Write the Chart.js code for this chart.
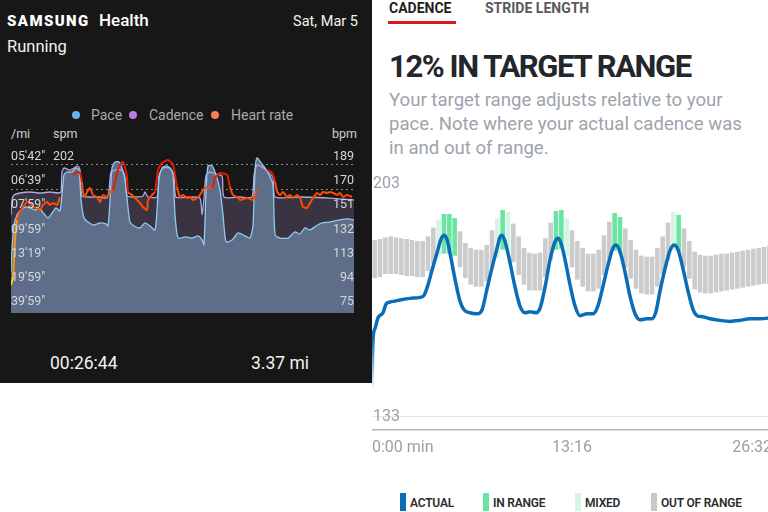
<!DOCTYPE html>
<html>
<head>
<meta charset="utf-8">
<script src="https://cdn.jsdelivr.net/npm/chart.js@4.4.1/dist/chart.umd.min.js"></script>
<style>
  html, body { margin: 0; padding: 0; background: #fff; }
  #page { position: relative; width: 768px; height: 512px; overflow: hidden; font-family: Roboto, "Noto Sans", sans-serif; }
  #left { position: absolute; left: 0; top: 0; width: 372px; height: 383px; background: #171717; }
  .t { position: absolute; white-space: nowrap; line-height: 1; }
  .dot { position: absolute; width: 8px; height: 8px; border-radius: 50%; }
  .lbar { position: absolute; width: 6px; height: 18px; top: 493px; }
  .ltxt { position: absolute; top: 497px; font-size: 12px; font-weight: 600; color: #2b2b2b; white-space: nowrap; line-height: 1; letter-spacing: -0.2px; }
  canvas { position: absolute; }
</style>
</head>
<body>
<div id="page">
  <div id="left"></div>
  <div class="t" style="left:7px;top:14px;font-size:15px;font-weight:900;letter-spacing:1.4px;color:#fff;">SAMSUNG</div>
  <div class="t" style="left:99px;top:12px;font-size:17px;font-weight:500;color:#fff;">Health</div>
  <div class="t" style="right:410px;top:15px;font-size:14.5px;color:#f2f2f2;">Sat, Mar 5</div>
  <div class="t" style="left:7px;top:39px;font-size:16.5px;color:#f2f2f2;">Running</div>

  <div class="dot" style="left:72px;top:111px;background:#64b5f6;"></div>
  <div class="t" style="left:91px;top:108px;font-size:14px;color:#a9a9a9;">Pace</div>
  <div class="dot" style="left:129px;top:111px;background:#c07be8;"></div>
  <div class="t" style="left:149px;top:108px;font-size:14px;color:#a9a9a9;">Cadence</div>
  <div class="dot" style="left:211px;top:111px;background:#f47f63;"></div>
  <div class="t" style="left:231px;top:108px;font-size:14px;color:#a9a9a9;">Heart rate</div>

  <div class="t" style="left:11px;top:128px;font-size:12.5px;color:#d0d0d0;">/mi</div>
  <div class="t" style="left:53px;top:128px;font-size:12.5px;color:#d0d0d0;">spm</div>
  <div class="t" style="left:332px;top:128px;font-size:12.5px;color:#d0d0d0;">bpm</div>

  <div class="t" style="left:50px;top:355px;font-size:17.5px;color:#f2f2f2;">00:26:44</div>
  <div class="t" style="left:251px;top:355px;font-size:17.5px;color:#f2f2f2;">3.37 mi</div>

  <canvas id="samsung" width="372" height="180" style="left:0;top:140px;"></canvas>

  <div class="t" style="left:389px;top:1px;font-size:14px;font-weight:700;color:#1f1f1f;">CADENCE</div>
  <div style="position:absolute;left:388px;top:21px;width:68px;height:3px;background:#d71920;"></div>
  <div class="t" style="left:485px;top:1px;font-size:14px;font-weight:700;color:#5a5a5a;">STRIDE LENGTH</div>
  <div class="t" style="left:389px;top:51px;font-size:31px;font-weight:700;letter-spacing:-1.4px;color:#23262b;">12% IN TARGET RANGE</div>
  <div class="t" style="left:389px;top:88px;font-size:18.6px;line-height:24px;color:#9da3ad;">Your target range adjusts relative to your<br>pace. Note where your actual cadence was<br>in and out of range.</div>

  <canvas id="cadence" width="400" height="300" style="left:372px;top:170px;"></canvas>

  <div class="lbar" style="left:400px;background:#0a6db5;"></div>
  <div class="ltxt" style="left:410px;">ACTUAL</div>
  <div class="lbar" style="left:483px;background:#6ae4a0;"></div>
  <div class="ltxt" style="left:493px;">IN RANGE</div>
  <div class="lbar" style="left:575px;background:#d3f5e3;"></div>
  <div class="ltxt" style="left:585px;">MIXED</div>
  <div class="lbar" style="left:651px;background:#c8c8c8;"></div>
  <div class="ltxt" style="left:661px;">OUT OF RANGE</div>
</div>

<script>
// === Samsung Health panel (time in minutes) ===
var paceMin = [0, 0.08, 0.23, 0.47, 0.70, 1.09, 1.48, 1.87, 2.26, 2.57, 2.88, 3.20, 3.51, 3.82, 3.97, 4.13, 4.36, 4.75, 5.07, 5.30,
  5.46, 5.69, 6.00, 6.47, 6.94, 7.40, 7.56, 7.72, 7.87, 8.11, 8.42, 8.65, 8.89, 9.04, 9.27, 9.59, 10.05, 10.44, 10.83, 11.22,
  11.38, 11.53, 11.77, 12.08, 12.39, 12.63, 12.78, 13.02, 13.56, 14.11, 14.57, 14.89, 15.04, 15.20, 15.35, 15.67, 15.98, 16.29, 16.52, 16.76,
  17.23, 17.69, 18.24, 18.63, 18.86, 19.02, 19.17, 19.49, 19.80, 20.19, 20.42, 20.58, 20.97, 21.59, 22.13, 22.52, 22.91, 23.30, 23.77, 24.24,
  24.86, 25.64, 26.27, 26.73];
// speed in mph (axis labels show it as min/mi pace)
var paceMph = [3.87, 5.24, 6.79, 7.42, 7.67, 7.91, 7.85, 7.73, 7.79, 7.48, 7.23, 7.54, 7.85, 7.67, 8.66, 9.91, 10.09, 10.09, 10.34, 10.22,
  8.35, 7.23, 6.98, 6.79, 6.92, 6.86, 6.73, 8.35, 10.34, 10.72, 10.72, 10.34, 9.60, 8.48, 6.98, 6.73, 6.61, 6.92, 6.73, 6.48,
  7.73, 9.60, 10.34, 10.47, 10.34, 9.91, 7.42, 5.98, 6.05, 5.98, 6.11, 5.86, 5.55, 8.97, 10.47, 10.47, 9.91, 8.97, 7.42, 5.74,
  5.86, 6.30, 6.11, 5.98, 6.79, 10.22, 10.97, 10.66, 10.34, 9.78, 9.29, 6.17, 5.98, 5.98, 6.36, 6.23, 6.61, 6.48, 6.73, 6.92,
  6.98, 7.11, 7.17, 7.11];

var cadMin = [0, 0.08, 0.23, 0.70, 1.48, 2.26, 3.04, 3.66, 3.90, 3.97, 4.13, 4.60, 4.91, 5.22, 5.38, 5.53, 6.16, 6.94, 7.48, 7.64,
  7.79, 8.11, 8.65, 8.89, 9.04, 9.66, 10.29, 10.44, 10.68, 11.38, 11.53, 11.85, 12.39, 12.70, 12.86, 13.95, 14.73, 14.89, 15.04, 15.20,
  15.51, 15.98, 16.45, 16.60, 17.85, 18.78, 18.94, 19.17, 19.56, 20.03, 20.42, 20.58, 22.52, 24.86, 26.73];
var cadSpm = [177.2, 184.6, 187.1, 188.1, 188.6, 188.1, 188.6, 188.1, 188.6, 198.5, 200.5, 199.5, 200.5, 201.5, 199.5, 186.6, 186.1, 186.1, 185.6, 189.6,
  198.5, 199.5, 199.5, 195.6, 186.6, 186.1, 186.6, 188.6, 186.1, 186.1, 197.0, 200.5, 200.5, 197.0, 186.1, 186.1, 185.6, 177.2, 185.6, 197.0,
  198.5, 197.5, 196.5, 186.1, 186.1, 186.1, 197.0, 202.0, 201.0, 198.5, 195.6, 186.1, 186.1, 185.6, 184.6];

var hrMin = [0, 0.16, 0.31, 0.47, 0.70, 0.94, 1.25, 1.48, 1.71, 2.03, 2.26, 2.49, 2.81, 3.04, 3.27, 3.59, 3.82, 4.30, 4.83, 5.14,
  5.38, 5.53, 5.61, 5.77, 5.92, 6.16, 6.39, 6.70, 6.94, 7.17, 7.48, 7.72, 7.95, 8.26, 8.50, 8.73, 9.04, 9.12, 9.43, 9.82,
  10.05, 10.29, 10.60, 10.68, 10.99, 11.22, 11.46, 11.77, 12.24, 12.63, 12.94, 13.17, 13.41, 13.72, 13.95, 14.19, 14.50, 14.73, 14.96, 15.28,
  15.67, 15.90, 16.29, 16.84, 17.07, 17.30, 17.61, 17.85, 18.39, 18.86, 19.17, 19.50, 19.95, 20.35, 20.58, 20.74, 20.97, 21.20, 21.51, 21.75,
  21.98, 22.29, 22.52, 22.76, 23.07, 23.30, 23.54, 23.85, 24.08, 24.32, 24.63, 24.86, 25.10, 25.41, 25.64, 25.88, 26.19, 26.58];
var hrBpm = [94.7, 100.9, 130.0, 145.8, 152.0, 156.0, 159.9, 159.1, 156.0, 155.2, 153.6, 157.6, 159.9, 157.6, 159.1, 157.6, 163.8, null, 181.1, 183.5,
  182.7, 175.6, 167.8, 163.8, 167.8, 170.9, 165.4, 163.8, 159.9, 165.4, 163.8, 167.8, 169.3, 182.7, 189.0, 191.4, 179.6, 167.8, 165.4, 161.5,
  159.1, 156.0, 153.6, 161.5, 165.4, 167.8, 185.1, 190.6, 192.9, 189.0, 171.7, 163.8, 165.4, 163.1, 163.8, 161.5, 163.1, 165.4, 169.3, 171.7,
  170.9, 178.8, 182.7, 181.1, 171.7, 165.4, 163.8, 161.5, 163.1, 161.5, 169.3, null, 185.1, 182.7, 175.6, 167.8, 165.4, 167.8, 163.8, 165.4,
  163.1, 165.4, 163.1, 156.0, 155.2, 159.1, 163.1, 167.0, 165.4, 167.8, 167.0, 167.8, 167.0, 165.4, 167.0, 163.8, 165.4, 163.8];

var hrTicks = [189, 170, 151, 132, 113, 94, 75];
var paceTickLabels = ["05'42\"", "06'39\"", "07'59\"", "09'59\"", "13'19\"", "19'59\"", "39'59\""];
var cadTopLabel = '202';

// === Cadence panel (time in seconds) ===
var runSeconds = 1592;
var rangeLow = [174.5, 174.8, 175.7, 175.7, 175.7, 175.4, 175.1, 175.1, 174.8, 174.8, 176.6, 178.9, 180.9, 181.8, 181.8, 181.2, 177.7, 174.5, 172.5, 171.9,
  171.9, 173.4, 177.2, 180.6, 183.0, 182.4, 179.2, 175.4, 172.5, 170.8, 170.8, 170.8, 174.8, 179.8, 183.0, 183.3, 181.2, 177.7, 174.0, 171.9,
  170.5, 170.5, 171.3, 175.4, 180.1, 182.7, 181.8, 177.7, 174.3, 171.3, 169.9, 169.6, 169.6, 171.9, 175.7, 179.8, 182.7, 182.4, 177.7, 174.3,
  171.1, 170.2, 169.9, 169.9, 170.2, 170.5, 170.8, 171.1, 171.3, 171.6, 171.9, 172.2, 172.5, 172.8, 172.8];
var rangeHigh = [185.9, 186.2, 186.7, 187.0, 186.7, 186.4, 186.2, 185.9, 185.6, 185.6, 187.0, 189.6, 192.0, 193.7, 193.7, 192.5, 188.5, 185.0, 183.5, 183.0,
  183.0, 184.4, 188.8, 192.3, 194.9, 194.3, 190.8, 187.0, 183.5, 182.1, 181.8, 182.1, 186.4, 191.1, 194.6, 194.9, 192.3, 188.8, 185.6, 183.5,
  181.8, 181.8, 183.0, 187.3, 191.4, 194.0, 192.8, 189.4, 185.9, 183.0, 181.2, 180.9, 180.9, 183.5, 187.0, 191.1, 194.3, 193.4, 189.4, 185.6,
  182.4, 181.5, 181.2, 181.2, 181.5, 181.8, 181.8, 182.1, 182.4, 182.7, 183.0, 183.3, 183.5, 183.8, 184.1];
// O = out of range, G = in range, M = mixed
var rangeStatus = ['O','O','O','O','O','O','O','O','O','O','O','O','M','G','G','G','O','O','O','O',
  'O','O','O','M','G','M','O','O','O','O','O','O','O','O','G','G','M','O','O','O',
  'O','O','O','O','O','G','G','O','O','O','O','O','O','O','O','O','M','G','O','O',
  'O','O','O','O','O','O','O','O','O','O','O','O','O','O','O'];

var actualSec = [0, 4, 12, 24, 44, 56, 72, 92, 111, 151, 191, 207, 223, 239, 259, 275, 287, 299, 314, 330,
  350, 366, 390, 418, 438, 458, 478, 498, 509, 517, 529, 549, 569, 589, 609, 629, 653, 669, 689, 708,
  728, 740, 752, 768, 788, 808, 828, 856, 880, 899, 919, 939, 959, 971, 987, 1007, 1027, 1047, 1067, 1095,
  1114, 1130, 1146, 1166, 1186, 1202, 1218, 1238, 1258, 1278, 1294, 1317, 1345, 1385, 1425, 1465, 1504, 1544, 1592];
var actualSpm = [140.0, 156.0, 159.4, 162.6, 164.1, 166.7, 167.3, 167.6, 167.9, 168.4, 168.7, 169.3, 172.5, 176.9, 182.1, 186.2, 187.3, 185.9, 180.6, 174.3,
  167.6, 165.0, 164.1, 163.8, 165.0, 171.3, 177.7, 183.5, 186.7, 187.3, 185.6, 179.2, 171.9, 166.1, 164.1, 164.4, 164.1, 165.5, 171.9, 179.8,
  185.3, 186.4, 185.0, 180.1, 172.5, 166.1, 163.2, 163.8, 163.8, 166.1, 171.9, 178.3, 183.5, 184.4, 182.4, 176.3, 169.0, 163.8, 162.0, 162.3,
  162.3, 164.4, 170.5, 177.2, 182.7, 184.4, 183.0, 177.2, 170.5, 165.0, 163.2, 162.9, 162.3, 161.8, 161.5, 161.8, 162.3, 162.3, 162.6];

var cadYTicks = [203, 133];
var cadXTicks = [0, 796, 1592];
var cadXLabels = ['0:00 min', '13:16', '26:32'];

function pts(xs, ys) {
  return xs.map(function (x, i) { return { x: x, y: ys[i] }; });
}

// === Left chart ===
var leftLabels = {
  id: 'leftLabels',
  afterDraw: function (chart) {
    var c = chart.ctx, hr = chart.scales.hr, a = chart.chartArea;
    c.save();
    c.font = '12.5px Roboto, sans-serif';
    c.fillStyle = '#d3d6db';
    c.textBaseline = 'middle';
    hrTicks.forEach(function (v, i) {
      var y = hr.getPixelForValue(v) - 8;
      c.textAlign = 'left';
      c.fillText(paceTickLabels[i], a.left, y);
      c.textAlign = 'right';
      c.fillText(String(v), a.right, y);
    });
    c.textAlign = 'left';
    c.fillText(cadTopLabel, a.left + 42, hr.getPixelForValue(hrTicks[0]) - 8);
    c.restore();
  }
};

new Chart(document.getElementById('samsung'), {
  type: 'line',
  data: {
    datasets: [{
      label: 'Heart rate',
      data: pts(hrMin, hrBpm),
      yAxisID: 'hr',
      borderWidth: 2,
      borderColor: '#ff4d00',
      segment: {
        borderColor: function (ctx) {
          var v = Math.max(ctx.p0.parsed.y, ctx.p1.parsed.y);
          if (v < 115) return '#ffd400';
          if (v < 150) return '#ff9a00';
          if (v > 176) return '#e41b00';
          return '#ff4a00';
        }
      },
      pointRadius: 0,
      tension: 0.2,
      spanGaps: false,
      fill: false
    }, {
      label: 'Pace',
      data: pts(paceMin, paceMph),
      yAxisID: 'pace',
      borderColor: '#8fcaf0',
      borderWidth: 1.3,
      backgroundColor: '#5f6e88',
      fill: 'start',
      pointRadius: 0,
      tension: 0.2
    }, {
      label: 'Cadence',
      data: pts(cadMin, cadSpm),
      yAxisID: 'cad',
      borderColor: '#b7a5e3',
      borderWidth: 1.3,
      backgroundColor: '#3a3342',
      fill: 'start',
      pointRadius: 0,
      tension: 0.2
    }]
  },
  options: {
    responsive: false,
    animation: false,
    layout: { autoPadding: false, padding: { left: 11, right: 18, top: 10, bottom: 7 } },
    scales: {
      x: { type: 'linear', min: 0, max: 26.73, display: false },
      hr: {
        position: 'right', min: 72.64, max: 200.78, z: 1,
        afterBuildTicks: function (s) { s.ticks = hrTicks.map(function (v) { return { value: v }; }); },
        ticks: { display: false },
        border: { display: false, dash: [2, 3] },
        grid: { color: 'rgba(215,215,220,0.6)', lineWidth: 1, drawTicks: false }
      },
      pace: { position: 'left', min: 1.313, max: 11.46, display: false },
      cad: { position: 'left', min: 128.5, max: 209.45, display: false }
    },
    plugins: {
      legend: { display: false },
      tooltip: { enabled: false },
      filler: { drawTime: 'beforeDatasetsDraw' }
    }
  },
  plugins: [leftLabels]
});

// === Right chart ===
var BLUE = '#0a6db5';
var statusColor = { O: '#cbcbcb', G: '#6ae4a0', M: '#d3f5e3' };
var barSec = runSeconds / rangeLow.length;

var cadenceLabels = {
  id: 'cadenceLabels',
  afterDraw: function (chart) {
    var c = chart.ctx, xs = chart.scales.x, ys = chart.scales.y, a = chart.chartArea;
    c.save();
    c.font = '16px Roboto, sans-serif';
    c.fillStyle = '#9aa0a8';
    c.textBaseline = 'middle';
    c.textAlign = 'left';
    cadYTicks.forEach(function (v) {
      c.fillText(String(v), a.left + 1, ys.getPixelForValue(v) + 1);
    });
    var aligns = ['left', 'center', 'right'];
    cadXTicks.forEach(function (v, i) {
      c.textAlign = aligns[i];
      c.fillText(cadXLabels[i], xs.getPixelForValue(v), a.bottom + 18);
    });
    c.restore();
  }
};

new Chart(document.getElementById('cadence'), {
  type: 'bar',
  data: {
    datasets: [{
      type: 'line',
      label: 'Actual',
      data: pts(actualSec, actualSpm),
      borderWidth: 3.5,
      borderColor: function (ctx) {
        var chart = ctx.chart;
        if (!chart.chartArea) return BLUE;
        var y = chart.scales.y;
        var g = chart.ctx.createLinearGradient(0, y.getPixelForValue(141), 0, y.getPixelForValue(156));
        g.addColorStop(0, 'rgba(10,109,181,0)');
        g.addColorStop(1, BLUE);
        return g;
      },
      pointRadius: 0,
      cubicInterpolationMode: 'monotone',
      borderCapStyle: 'round',
      order: 0
    }, {
      label: 'Range',
      data: rangeLow.map(function (lo, i) { return { x: (i + 0.5) * barSec, y: [lo, rangeHigh[i]] }; }),
      backgroundColor: rangeStatus.map(function (s) { return statusColor[s]; }),
      borderWidth: 0,
      barPercentage: 1,
      categoryPercentage: 0.86,
      order: 1
    }]
  },
  options: {
    responsive: false,
    animation: false,
    layout: { autoPadding: false, padding: { left: 0, right: 0, top: 13, bottom: 32 } },
    scales: {
      x: {
        type: 'linear', min: 0, max: runSeconds, offset: false,
        ticks: { display: false },
        grid: { display: false },
        border: { display: true, color: '#b3b7bc', width: 1.5 }
      },
      y: {
        min: 128.93, max: 203,
        afterBuildTicks: function (s) { s.ticks = cadYTicks.map(function (v) { return { value: v }; }); },
        ticks: { display: false },
        grid: {
          drawTicks: false,
          color: function (ctx) { return ctx.tick && ctx.tick.value === 133 ? '#e3e3e3' : 'rgba(0,0,0,0)'; }
        },
        border: { display: false }
      }
    },
    plugins: { legend: { display: false }, tooltip: { enabled: false } }
  },
  plugins: [cadenceLabels]
});
</script>
</body>
</html>
